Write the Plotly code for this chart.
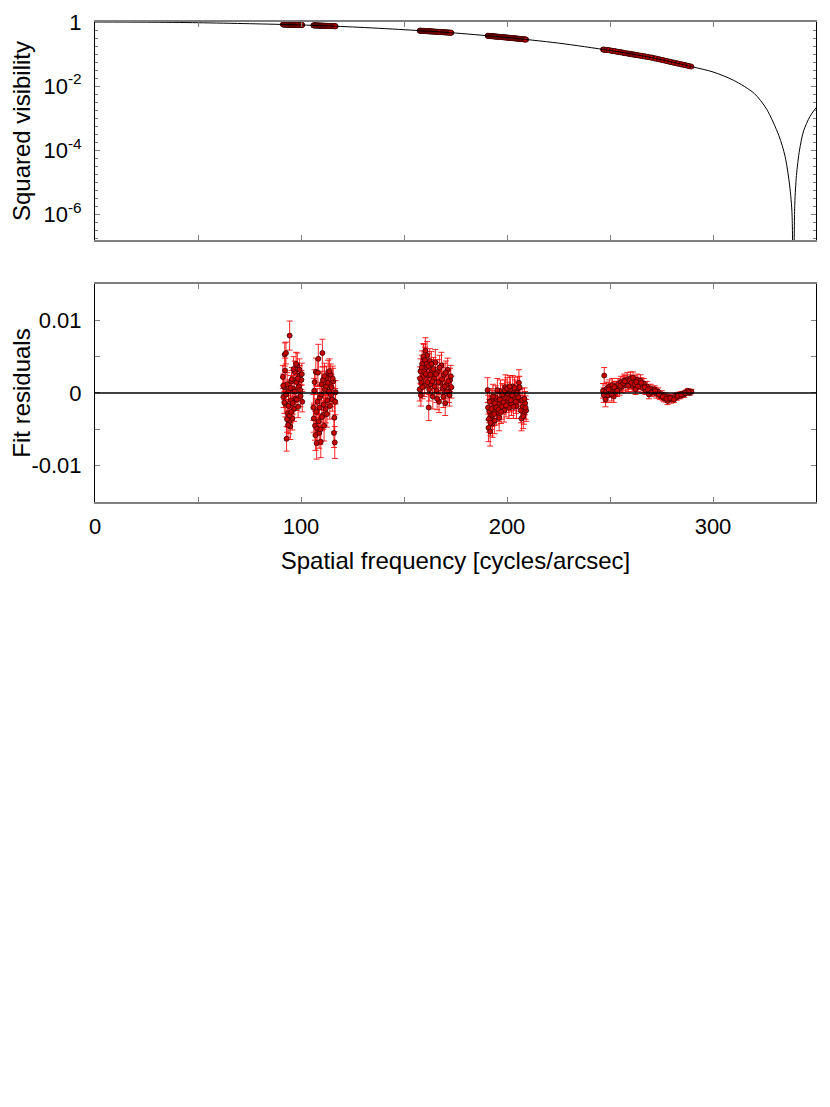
import numpy as np
import plotly.graph_objects as go

# fitted model curve
MODEL_FREQ = [0, 25, 50, 75, 100, 125, 150, 175, 200, 225, 250, 270, 290, 300, 310, 320,
              326, 332, 335, 337, 338.3, 339, 339.7, 340.5, 342, 344, 347, 350]
MODEL_V2 = [1.0, 0.988, 0.950, 0.885, 0.809, 0.700, 0.575, 0.452, 0.327, 0.219, 0.129, 0.0776,
            0.0398, 0.0275, 0.0151, 0.00589, 0.00191, 2.8e-4, 6.3e-5, 1.0e-5, 1.26e-6, 1e-9,
            2.0e-6, 1.6e-5, 1.0e-4, 4.0e-4, 1.1e-3, 2.1e-3]

# data: frequency, squared visibility, residual (x1e-3), error (x1e-3)
FREQ_1 = [91.2, 91.5, 91.8, 92.1, 92.4, 92.7, 93.0, 93.3, 93.6, 93.9, 94.2, 94.5, 94.8, 95.1,
          95.4, 95.8, 96.2, 96.6, 97.0, 97.4, 97.8, 98.2, 98.6, 99.0, 99.4, 99.8, 100.2, 100.6,
          91.4, 91.9, 92.3, 92.8, 93.2, 93.7, 94.0, 94.4, 94.9, 95.3, 95.6, 96.0, 96.4, 96.9,
          97.6, 98.0, 98.4, 99.2, 99.6, 100.4]
V2_1 = [.839, .838, .837, .836, .835, .834, .833, .832, .831, .830, .829, .828, .827, .826,
        .825, .823, .822, .821, .819, .818, .817, .815, .814, .812, .811, .810, .808, .807,
        .838, .837, .835, .834, .832, .831, .829, .828, .827, .825, .824, .823, .822, .820,
        .817, .816, .815, .812, .810, .807]
RES_1 = [2.2, -0.5, 0.8, 5.3, -1.5, 5.5, -6.3, 1.2, -2.8, 0.3, -4.0, 7.9, -4.6, -1.0,
         1.6, -3.5, 0.6, -2.2, 2.9, -0.8, 1.5, 3.8, -1.9, 0.9, 2.4, -0.4, 1.8, -1.2,
         1.0, -1.3, 3.1, -0.2, -3.6, -4.4, -1.8, -3.1, 0.7, -2.6, 1.9, -1.4, 3.3, 0.2,
         4.0, -0.9, 2.0, 3.2, 0.4, 2.6]
ERR_1 = [1.6, 1.5, 1.7, 1.6, 1.8, 1.5, 1.7, 1.6, 1.9, 1.5, 1.6, 2.0, 1.8, 1.7,
         1.5, 1.6, 1.4, 1.7, 1.5, 1.6, 1.4, 1.7, 1.5, 1.6, 1.4, 1.5, 1.3, 1.4,
         1.6, 1.5, 1.7, 1.6, 1.8, 1.7, 1.5, 1.6, 1.7, 1.5, 1.6, 1.5, 1.7, 1.5,
         1.6, 1.5, 1.6, 1.5, 1.4, 1.5]

FREQ_2 = [106.0, 106.4, 106.8, 107.2, 107.6, 108.0, 108.4, 108.8, 109.2, 109.6, 110.0, 110.4,
          110.8, 111.2, 111.6, 112.0, 112.4, 112.8, 113.2, 113.6, 114.0, 114.4, 114.8, 115.2,
          115.6, 116.0, 116.4, 116.8,
          106.2, 106.6, 107.0, 107.4, 107.8, 108.2, 108.6, 109.0, 109.4, 109.8, 110.2, 110.6,
          111.0, 111.4, 112.2, 112.6, 113.0, 113.8, 114.6, 115.4, 116.2, 116.6]
V2_2 = [.785, .783, .782, .780, .778, .776, .775, .773, .771, .769, .768, .766,
        .764, .762, .761, .759, .757, .756, .754, .752, .750, .749, .747, .745,
        .743, .742, .740, .738,
        .784, .782, .781, .779, .777, .775, .774, .772, .770, .768, .767, .765,
        .763, .762, .758, .756, .755, .751, .748, .744, .741, .739]
RES_2 = [-2.0, 0.3, -4.5, 2.9, -6.9, -1.2, 4.7, -5.5, -0.6, -6.7, 1.2, 5.5,
         -3.0, -4.5, 0.5, -2.2, 2.1, -1.0, 2.8, 0.2, -1.8, 2.5, 0.8, -0.9,
         1.6, -5.5, -6.8, 0.1,
         -3.5, 1.5, -5.8, -2.6, -4.9, 2.8, -3.9, -2.0, -5.0, -0.2, -3.3, 1.8,
         -1.6, 2.3, 0.9, -2.9, 1.4, 3.0, -0.3, 2.0, -3.4, -1.2]
ERR_2 = [1.8, 1.7, 2.0, 1.9, 2.2, 1.8, 2.0, 2.1, 1.7, 2.2, 1.8, 1.9,
         2.0, 2.1, 1.7, 1.9, 1.6, 1.8, 1.7, 1.6, 1.8, 1.5, 1.7, 1.6,
         1.8, 2.0, 2.2, 1.6,
         1.9, 1.7, 2.1, 1.8, 2.0, 1.9, 1.8, 2.0, 2.1, 1.7, 1.9, 1.8,
         1.7, 1.8, 1.7, 1.8, 1.6, 1.7, 1.6, 1.7, 1.9, 1.8]

FREQ_3 = [157.6, 158.0, 158.4, 158.8, 159.2, 159.6, 160.0, 160.4, 160.8, 161.2, 161.6, 162.0,
          162.5, 163.0, 163.5, 164.0, 164.6, 165.2, 165.8, 166.4, 167.0, 167.6, 168.2, 168.8,
          169.4, 170.0, 170.6, 171.2, 171.8, 172.4, 173.0,
          157.8, 158.2, 158.6, 159.0, 159.4, 159.8, 160.2, 160.6, 161.0, 161.4, 161.8, 162.2,
          162.8, 163.3, 163.8, 164.3, 164.9, 165.5, 166.1, 166.7, 167.3, 168.5, 169.1, 169.7,
          170.3, 170.9, 171.5, 172.1, 172.7]
V2_3 = [.535, .533, .531, .529, .527, .525, .523, .522, .520, .518, .516, .514,
        .511, .509, .507, .504, .501, .499, .496, .493, .490, .487, .484, .481,
        .478, .475, .473, .470, .467, .464, .461,
        .534, .532, .530, .528, .526, .524, .523, .521, .519, .517, .515, .513,
        .510, .508, .505, .503, .500, .497, .494, .491, .489, .483, .480, .477,
        .474, .471, .468, .465, .463]
RES_3 = [0.5, 3.0, 1.5, 4.0, 2.2, 4.8, 1.0, 5.8, 3.5, 5.2, 2.4, -2.0,
         4.4, 1.2, 3.0, -0.5, 2.0, 4.2, 0.3, 2.9, -1.2, 1.4, 3.8, 0.6,
         2.5, -1.4, 1.1, 3.2, 0.2, 1.8, 0.8,
         2.0, -0.3, 3.5, 0.8, 5.0, 3.0, 4.5, 2.6, 4.0, 1.5, 3.7, 0.5,
         2.5, 4.0, 1.6, 3.3, 0.9, 2.6, -0.8, 1.5, 3.5, 1.9, -0.5, 0.9,
         2.8, 0.2, 1.6, -0.3, 2.3]
ERR_3 = [1.6, 1.7, 1.5, 1.8, 1.6, 1.9, 1.5, 1.8, 1.7, 1.9, 1.6, 1.8,
         1.7, 1.5, 1.6, 1.7, 1.5, 1.8, 1.6, 1.7, 1.5, 1.6, 1.8, 1.5,
         1.6, 1.7, 1.5, 1.6, 1.5, 1.6, 1.5,
         1.6, 1.5, 1.7, 1.6, 1.8, 1.7, 1.8, 1.6, 1.7, 1.5, 1.7, 1.6,
         1.6, 1.7, 1.5, 1.6, 1.5, 1.6, 1.5, 1.6, 1.7, 1.6, 1.5, 1.6,
         1.6, 1.5, 1.6, 1.5, 1.5]

FREQ_4 = [190.6, 191.0, 191.4, 191.8, 192.2, 192.6, 193.0, 193.5, 194.0, 194.5, 195.0, 195.6,
          196.2, 196.8, 197.4, 198.0, 198.6, 199.2, 199.8, 200.4, 201.0, 201.6, 202.2, 202.8,
          203.4, 204.0, 204.6, 205.2, 205.8, 206.4, 207.0, 207.6, 208.2, 208.8, 209.3,
          190.8, 191.2, 191.6, 192.0, 192.4, 192.8, 193.2, 193.8, 194.2, 194.8, 195.3, 195.9,
          196.5, 197.1, 197.7, 198.3, 198.9, 199.5, 200.1, 200.7, 201.3, 201.9, 202.5, 203.1,
          203.7, 204.3, 204.9, 205.5, 206.1, 206.7, 207.3, 207.9, 208.5, 209.0]
V2_4 = [.370, .368, .366, .365, .363, .361, .359, .357, .354, .352, .349, .347,
        .344, .341, .338, .335, .333, .330, .327, .324, .321, .319, .316, .313,
        .310, .307, .305, .302, .299, .296, .293, .291, .288, .285, .282,
        .369, .367, .365, .363, .362, .360, .358, .355, .353, .350, .348, .345,
        .342, .339, .337, .334, .331, .328, .326, .323, .320, .317, .314, .312,
        .309, .306, .303, .300, .298, .295, .292, .289, .286, .284]
RES_4 = [0.4, -4.8, -2.5, -5.3, -3.2, -1.0, -4.2, -2.0, -3.8, -0.6, -2.7, -1.5,
         -3.4, 0.2, -1.9, -0.4, -2.4, 0.8, -1.2, -0.1, -2.0, 0.5, -1.5, 0.9,
         -0.8, 0.3, -1.8, 0.6, 1.4, -1.0, -3.5, -1.9, -2.8, -1.4, -2.4,
         -2.0, -3.6, -1.2, -4.1, -2.2, -3.0, -0.5, -2.9, -1.4, -2.0, 0.4, -2.3,
         -0.9, -2.6, -0.2, -1.3, 0.3, -1.7, 0.6, -0.8, 0.9, -1.0, -0.3, -1.9,
         0.7, -1.2, 0.0, -0.6, 0.8, -2.4, -1.0, -3.2, -0.8, -2.0]
ERR_4 = [1.7, 1.9, 1.6, 2.0, 1.8, 1.6, 1.9, 1.7, 1.8, 1.6, 1.7, 1.5,
         1.8, 1.6, 1.7, 1.5, 1.6, 1.7, 1.5, 1.6, 1.5, 1.7, 1.6, 1.5,
         1.6, 1.5, 1.7, 1.6, 1.8, 1.5, 1.7, 1.6, 1.5, 1.6, 1.5,
         1.7, 1.8, 1.6, 1.8, 1.7, 1.6, 1.7, 1.6, 1.7, 1.5, 1.6, 1.6,
         1.5, 1.6, 1.5, 1.6, 1.5, 1.6, 1.5, 1.6, 1.5, 1.6, 1.5, 1.6,
         1.5, 1.6, 1.5, 1.6, 1.5, 1.7, 1.6, 1.7, 1.5, 1.6]

FREQ_5 = [246.6, 247.2, 247.8, 248.4, 249.0, 249.7, 250.4, 251.1, 251.8, 252.5, 253.2, 253.9,
          254.6, 255.3, 256.0, 256.8, 257.6, 258.4, 259.2, 260.0, 260.8, 261.6, 262.4, 263.2,
          264.0, 264.8, 265.6, 266.4, 267.2, 268.0, 268.9, 269.8, 270.7, 271.6, 272.5, 273.4,
          274.3, 275.2, 276.1, 277.0, 277.9, 278.8, 279.7, 280.6, 281.5, 282.4, 283.3, 284.2,
          285.1, 286.0, 286.9, 287.8, 288.7, 289.5,
          247.0, 248.1, 249.3, 250.8, 252.1, 253.5, 255.0, 256.4, 257.2, 258.8, 259.6, 260.4,
          261.2, 262.0, 262.8, 263.6, 265.2, 266.8, 268.4, 270.2, 272.0, 273.8, 275.6, 277.4,
          279.2, 281.0, 282.8, 284.6, 286.4, 288.2]
V2_5 = [.138, .137, .135, .134, .132, .131, .128, .125, .123, .121, .119, .117,
        .115, .113, .111, .108, .106, .104, .102, .100, .098, .096, .094, .092,
        .0904, .0885, .0867, .0851, .0834, .0817, .0798, .0780, .0759, .0736, .0714, .0693,
        .0673, .0653, .0634, .0614, .0596, .0578, .0561, .0544, .0528, .0513, .0498, .0483,
        .0469, .0455, .0442, .0429, .0416, .0405,
        .137, .134, .132, .127, .124, .118, .114, .110, .107, .103, .101, .099,
        .097, .095, .093, .091, .0876, .0842, .0808, .0771, .0726, .0684, .0644, .0606,
        .0570, .0536, .0506, .0476, .0449, .0423]
RES_5 = [0.3, 2.4, -0.9, 0.6, -0.3, 0.9, 0.2, 1.1, -0.5, 0.7, 0.4, 1.2,
         0.6, 1.5, 0.9, 1.7, 1.1, 1.9, 1.3, 2.0, 1.0, 1.6, 0.5, 1.8,
         1.2, 1.7, 0.7, 1.3, 0.4, 0.9, -0.2, 0.6, 0.2, 0.5, -0.1, 0.2,
         -0.4, -0.2, -0.7, -0.5, -1.1, -0.6, -0.9, -0.7, -0.5, -0.6, -0.3, -0.4,
         -0.1, -0.2, 0.1, 0.3, 0.0, 0.2,
         -0.3, 0.2, 0.5, -0.2, 0.8, 0.3, 1.0, 1.3, 1.6, 1.0, 1.7, 1.4,
         2.1, 1.2, 1.5, 0.9, 1.4, 0.8, 0.5, 0.1, 0.3, -0.2, -0.5, -0.8,
         -0.7, -0.9, -0.4, -0.2, 0.0, 0.1]
ERR_5 = [1.0, 1.1, 1.0, 0.9, 1.0, 0.9, 0.8, 0.9, 0.8, 0.9, 0.8, 0.8,
         0.9, 0.8, 0.8, 0.9, 0.8, 0.9, 0.8, 0.9, 0.8, 0.8, 0.7, 0.8,
         0.7, 0.8, 0.7, 0.7, 0.6, 0.7, 0.6, 0.6, 0.6, 0.5, 0.6, 0.5,
         0.5, 0.5, 0.5, 0.5, 0.5, 0.4, 0.5, 0.4, 0.4, 0.4, 0.4, 0.4,
         0.3, 0.4, 0.3, 0.3, 0.3, 0.3,
         1.0, 0.9, 0.9, 0.9, 0.8, 0.8, 0.8, 0.9, 0.8, 0.8, 0.8, 0.8,
         0.8, 0.8, 0.7, 0.7, 0.7, 0.7, 0.6, 0.6, 0.5, 0.5, 0.5, 0.5,
         0.4, 0.4, 0.4, 0.4, 0.3, 0.3]

freq = FREQ_1 + FREQ_2 + FREQ_3 + FREQ_4 + FREQ_5
v2 = V2_1 + V2_2 + V2_3 + V2_4 + V2_5
res = np.array(RES_1 + RES_2 + RES_3 + RES_4 + RES_5) * 1e-3
err = np.array(ERR_1 + ERR_2 + ERR_3 + ERR_4 + ERR_5) * 1e-3

FONT = "Liberation Sans, Arial, sans-serif"
marker = dict(size=5, color="#c80000", line=dict(color="#3a0000", width=0.8))

fig = go.Figure()
fig.add_trace(go.Scatter(x=freq, y=v2, mode="markers", marker=marker,
                         xaxis="x", yaxis="y", showlegend=False))
fig.add_trace(go.Scatter(x=MODEL_FREQ, y=MODEL_V2, mode="lines",
                         line=dict(color="black", width=1, shape="spline", smoothing=0.8),
                         xaxis="x", yaxis="y", showlegend=False))
fig.add_trace(go.Scatter(x=freq, y=res, mode="markers", marker=marker,
                         error_y=dict(type="data", array=err, color="rgba(255,0,0,0.85)",
                                      thickness=1, width=3),
                         xaxis="x2", yaxis="y2", showlegend=False))

# zero line of the residuals, drawn over the points
fig.add_shape(type="line", xref="x2", yref="y2", x0=0, x1=350, y0=0, y1=0,
              line=dict(color="black", width=1.3), layer="above")

tickfont = dict(family=FONT, size=22, color="black")
xcommon = dict(range=[0, 350], dtick=100, ticks="inside", ticklen=5, mirror="ticks",
               showline=True, linecolor="#7f7f7f", linewidth=2, showgrid=False, zeroline=False,
               minor=dict(dtick=50, ticks="inside", ticklen=5, tickcolor="#7f7f7f"),
               tickcolor="#7f7f7f", tickfont=tickfont)
ycommon = dict(ticks="inside", ticklen=5, mirror="ticks", showline=True, linecolor="black",
               linewidth=1, showgrid=False, zeroline=False, tickcolor="#7f7f7f",
               tickfont=tickfont, ticklabelstandoff=8)

minor_log = [10 ** (-k / 4) for k in range(1, 28)]

fig.update_layout(
    width=822, height=1099,
    margin=dict(l=87, r=14, t=14, b=605, autoexpand=False),
    paper_bgcolor="white", plot_bgcolor="white",
    font=dict(family=FONT, size=20, color="black"),
    xaxis=dict(xcommon, domain=[0, 1], anchor="y", showticklabels=False),
    yaxis=dict(ycommon, type="log", domain=[0.5458, 1], range=[-6.81, 0],
               tickvals=[1, 1e-2, 1e-4, 1e-6],
               ticktext=["1", "10<sup>-2</sup>", "10<sup>-4</sup>", "10<sup>-6</sup>"],
               minor=dict(tickvals=minor_log, ticks="inside", ticklen=3, tickcolor="#7f7f7f"),
               title=dict(text="Squared visibility", standoff=12)),
    xaxis2=dict(xcommon, domain=[0, 1], anchor="y2", ticklabelstandoff=4,
                title=dict(text="Spatial frequency [cycles/arcsec]", standoff=14)),
    yaxis2=dict(ycommon, domain=[0, 0.4542], range=[-0.015, 0.015],
                tickvals=[-0.01, 0, 0.01], ticktext=["-0.01", "0", "0.01"],
                minor=dict(dtick=0.005, ticks="inside", ticklen=5, tickcolor="#7f7f7f"),
                title=dict(text="Fit residuals", standoff=4)),
)

fig.write_html("out.html")
